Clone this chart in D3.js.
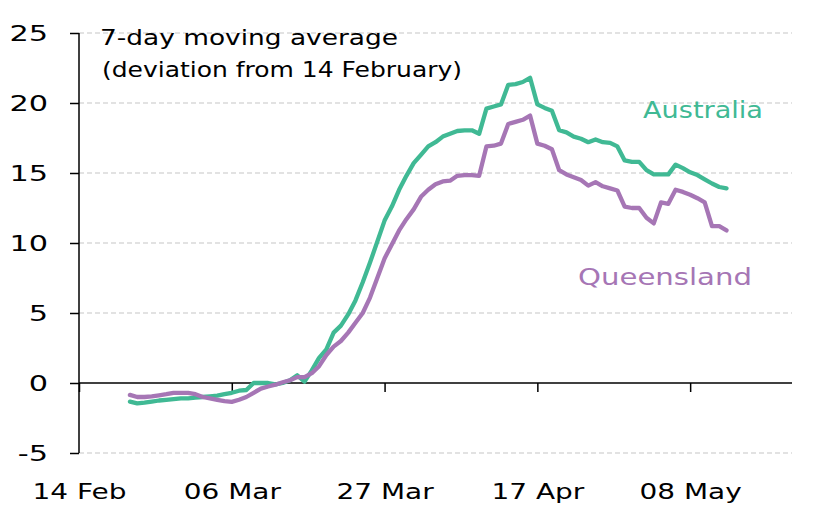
<!DOCTYPE html>
<html>
<head>
<meta charset="utf-8">
<script src="https://cdn.jsdelivr.net/npm/d3@7"></script>
<style>
  body { margin: 0; background: #fff; }
  svg { display: block; font-family: "DejaVu Sans", sans-serif; }
</style>
</head>
<body>
<svg id="chart" width="813" height="507"></svg>
<script>
// ---- Data (daily, 21 Feb to 14 May) ----
const startDate = "2020-02-21";
const australia = [
  -1.33, -1.45, -1.4, -1.33, -1.25, -1.2, -1.15, -1.1, -1.1, -1.05,
  -1.0, -0.95, -0.9, -0.8, -0.7, -0.55, -0.5, 0.0, 0.0, 0.0,
  -0.1, 0.0, 0.2, 0.55, 0.1, 0.9, 1.8, 2.4, 3.6, 4.1,
  4.9, 5.9, 7.2, 8.6, 10.1, 11.6, 12.6, 13.8, 14.8, 15.7,
  16.3, 16.9, 17.2, 17.6, 17.8, 18.0, 18.05, 18.05, 17.8, 19.6,
  19.75, 19.9, 21.3, 21.35, 21.5, 21.8, 19.9, 19.65, 19.45, 18.05,
  17.9, 17.6, 17.45, 17.2, 17.4, 17.2, 17.15, 16.9, 15.9, 15.8,
  15.8, 15.2, 14.9, 14.9, 14.9, 15.6, 15.35, 15.05, 14.85, 14.55,
  14.25, 14.0, 13.9
];
const queensland = [
  -0.85, -1.0, -1.0, -0.95, -0.88, -0.8, -0.7, -0.7, -0.7, -0.8,
  -1.0, -1.1, -1.2, -1.3, -1.35, -1.2, -1.0, -0.7, -0.4, -0.25,
  -0.12, 0.05, 0.2, 0.42, 0.42, 0.7, 1.2, 2.0, 2.6, 3.0,
  3.6, 4.3, 5.0, 6.1, 7.5, 8.9, 9.9, 10.9, 11.7, 12.4,
  13.3, 13.8, 14.2, 14.4, 14.45, 14.8, 14.85, 14.85, 14.8, 16.9,
  16.95, 17.1, 18.5, 18.65, 18.8, 19.1, 17.1, 16.95, 16.7, 15.2,
  14.9, 14.7, 14.5, 14.1, 14.35, 14.05, 13.9, 13.75, 12.6, 12.5,
  12.5, 11.8, 11.4, 12.9, 12.8, 13.8, 13.65, 13.45, 13.2, 12.9,
  11.2, 11.2, 10.9
];
const yTicks = [-5, 0, 5, 10, 15, 20, 25];
const yTickLabels = ["-5", "0", "5", "10", "15", "20", "25"];
const xTickDates = ["2020-02-14", "2020-03-06", "2020-03-27", "2020-04-17", "2020-05-08"];
const xTickLabels = ["14 Feb", "06 Mar", "27 Mar", "17 Apr", "08 May"];
const seriesNames = ["Australia", "Queensland"];
const seriesColors = ["#40b994", "#a676b5"];
const titleLines = ["7-day moving average", "(deviation from 14 February)"];

// ---- Layout ----
const svg = d3.select("#chart");
const parse = d3.utcParse("%Y-%m-%d");
const day = 864e5;
const start = parse(startDate);
const dates = australia.map((_, i) => new Date(+start + i * day));

const x = d3.scaleUtc()
  .domain([parse("2020-02-14"), parse("2020-05-22")])
  .range([79, 792]);
const y = d3.scaleLinear().domain([-5, 25]).range([453, 33]);

const fontSize = 22;
const stretch = 1.27; // widen glyphs to mimic the wide geometric face

function widen(sel, factor) {
  sel.each(function () {
    const w = this.getComputedTextLength();
    d3.select(this).attr("textLength", w * factor).attr("lengthAdjust", "spacingAndGlyphs");
  });
}

// gridlines
svg.append("g")
  .selectAll("line")
  .data(yTicks.filter(v => v !== 0))
  .join("line")
  .attr("x1", 79).attr("x2", 792)
  .attr("y1", d => y(d)).attr("y2", d => y(d))
  .attr("stroke", "#d9d9d9")
  .attr("stroke-width", 1.3)
  .attr("stroke-dasharray", "5,3");

// y axis
const yAxis = svg.append("g")
  .attr("transform", "translate(79,0)")
  .call(d3.axisLeft(y).tickValues(yTicks).tickSize(9).tickPadding(22)
    .tickFormat((d, i) => yTickLabels[i]));
yAxis.select(".domain").attr("stroke", "#000").attr("stroke-width", 1.5).attr("d", `M0,${y(25)}V${y(-5)}`);
yAxis.selectAll(".tick line").attr("stroke", "#000").attr("stroke-width", 1.5);
yAxis.selectAll(".tick text")
  .attr("font-family", "DejaVu Sans, sans-serif")
  .attr("font-size", fontSize)
  .attr("fill", "#000")
  .attr("dy", "0.36em")
  .call(widen, 1.38);

// x axis on zero line
const xAxis = svg.append("g")
  .attr("transform", `translate(0,${y(0)})`)
  .call(d3.axisBottom(x)
    .tickValues(xTickDates.map(parse))
    .tickSize(9)
    .tickFormat((d, i) => xTickLabels[i]));
xAxis.select(".domain").attr("stroke", "#000").attr("stroke-width", 1.5).attr("d", `M79,0H792`);
xAxis.selectAll(".tick line").attr("stroke", "#000").attr("stroke-width", 1.5);
xAxis.selectAll(".tick text")
  .attr("font-family", "DejaVu Sans, sans-serif")
  .attr("font-size", fontSize)
  .attr("fill", "#000")
  .attr("y", 0)
  .attr("dy", 0)
  .attr("transform", `translate(0,${499 - y(0)})`)
  .call(widen, stretch);

// lines
const line = d3.line()
  .x((d, i) => x(dates[i]))
  .y(d => y(d));

[australia, queensland].forEach((s, k) => {
  svg.append("path")
    .datum(s)
    .attr("fill", "none")
    .attr("stroke", seriesColors[k])
    .attr("stroke-width", 4.3)
    .attr("stroke-linejoin", "round")
    .attr("stroke-linecap", "round")
    .attr("d", line);
});

// title
const titleWidths = [298, 360];
svg.append("g").selectAll("text")
  .data(titleLines)
  .join("text")
  .attr("x", (d, i) => 100 + i * 2)
  .attr("y", (d, i) => 45 + i * 32)
  .attr("font-size", 22)
  .attr("fill", "#000")
  .attr("textLength", (d, i) => titleWidths[i])
  .attr("lengthAdjust", "spacingAndGlyphs")
  .text(d => d);

// series labels
const labelPos = [{x: 643, y: 118, w: 120}, {x: 578, y: 285, w: 174}];
svg.append("g").selectAll("text")
  .data(seriesNames)
  .join("text")
  .attr("x", (d, i) => labelPos[i].x)
  .attr("y", (d, i) => labelPos[i].y)
  .attr("font-size", 23)
  .attr("fill", (d, i) => seriesColors[i])
  .attr("textLength", (d, i) => labelPos[i].w)
  .attr("lengthAdjust", "spacingAndGlyphs")
  .text(d => d);
</script>
</body>
</html>
